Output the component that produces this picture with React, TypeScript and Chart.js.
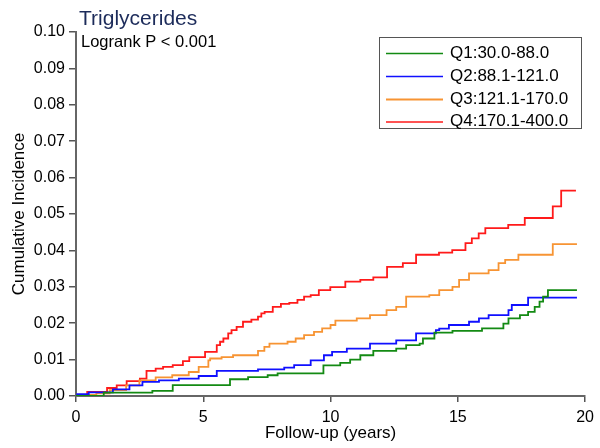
import React, { useEffect, useRef } from "react";
import { Chart, registerables } from "chart.js";

Chart.register(...registerables);

const chartTitle = "Triglycerides";
const pValueText = "Logrank P < 0.001";
const xAxisTitle = "Follow-up (years)";
const yAxisTitle = "Cumulative Incidence";

const seriesLabels = ["Q1:30.0-88.0", "Q2:88.1-121.0", "Q3:121.1-170.0", "Q4:170.1-400.0"];
const seriesColors = ["#138a13", "#1010ff", "#f79433", "#ff1a1a"];

const q1Times = [0, 1.09, 3.0, 3.8, 6.05, 6.76, 7.53, 7.92, 9.72, 10.38, 10.77, 11.17, 11.68, 12.58, 12.97, 13.5, 13.63, 14.08, 14.79, 15.95, 16.79, 16.99, 17.44, 17.76, 18.02, 18.21, 18.35, 18.54, 19.68];
const q1Values = [0, 0.0009, 0.0014, 0.003, 0.0046, 0.0052, 0.0057, 0.0062, 0.0084, 0.0091, 0.01, 0.0112, 0.0124, 0.013, 0.014, 0.0144, 0.0158, 0.0174, 0.0179, 0.0186, 0.0199, 0.0213, 0.0222, 0.0231, 0.0245, 0.0259, 0.0273, 0.0291, 0.0291];

const q2Times = [0, 0.05, 0.5, 1.45, 2.1, 2.61, 3.26, 4.04, 4.82, 5.53, 7.15, 8.18, 8.57, 9.22, 9.74, 10.06, 10.64, 11.55, 12.58, 13.36, 14.14, 14.27, 14.65, 15.44, 15.83, 16.21, 16.99, 17.12, 17.76, 19.68];
const q2Values = [0, 0.0005, 0.001, 0.0018, 0.0029, 0.0039, 0.0043, 0.0048, 0.0055, 0.0069, 0.0073, 0.0078, 0.0085, 0.0098, 0.0112, 0.0121, 0.013, 0.0144, 0.0153, 0.0172, 0.0181, 0.0185, 0.0195, 0.0204, 0.0213, 0.0222, 0.0236, 0.025, 0.027, 0.027];

const q3Times = [0, 0.5, 0.8, 1.32, 1.97, 2.49, 3.13, 3.78, 4.43, 4.82, 5.2, 5.27, 5.72, 6.17, 7.15, 7.4, 7.6, 8.31, 8.63, 8.96, 9.35, 9.67, 10.0, 10.19, 11.03, 11.55, 12.2, 12.58, 12.97, 13.88, 14.27, 14.79, 15.05, 15.44, 16.21, 16.6, 16.86, 17.38, 18.73, 19.68];
const q3Values = [0, 0.0003, 0.0007, 0.0016, 0.0029, 0.0043, 0.0051, 0.0057, 0.0066, 0.008, 0.0098, 0.0103, 0.0107, 0.0112, 0.0124, 0.0135, 0.0144, 0.0149, 0.0158, 0.0167, 0.0176, 0.0186, 0.0195, 0.0207, 0.0213, 0.0222, 0.0236, 0.0245, 0.0273, 0.0277, 0.0291, 0.03, 0.0319, 0.0337, 0.0346, 0.0365, 0.0374, 0.0388, 0.0417, 0.0417];

const q4Times = [0, 0.44, 1.22, 1.6, 1.99, 2.51, 2.77, 3.13, 3.42, 3.8, 4.2, 4.45, 5.07, 5.53, 5.66, 5.79, 5.98, 6.11, 6.31, 6.56, 6.89, 7.15, 7.28, 7.41, 7.73, 8.05, 8.38, 8.7, 8.96, 9.22, 9.54, 9.99, 10.58, 11.17, 11.68, 12.22, 12.84, 13.36, 14.26, 14.78, 15.3, 15.55, 15.82, 16.08, 16.98, 17.63, 18.73, 19.06, 19.64];
const q4Values = [0, 0.0011, 0.0022, 0.0029, 0.0041, 0.0048, 0.0069, 0.0075, 0.008, 0.0085, 0.0096, 0.0107, 0.0121, 0.014, 0.0149, 0.0158, 0.0172, 0.0181, 0.019, 0.0204, 0.021, 0.0218, 0.0227, 0.0231, 0.0245, 0.0253, 0.0256, 0.0264, 0.0273, 0.0277, 0.0291, 0.0299, 0.0314, 0.0319, 0.0326, 0.0355, 0.0365, 0.0388, 0.0394, 0.0401, 0.042, 0.0433, 0.0447, 0.0461, 0.047, 0.0489, 0.0521, 0.0564, 0.0564];

const xTickStep = 5;
const yTickStep = 0.01;

const FONT = "'Liberation Sans', Arial, sans-serif";

function toPoints(times: number[], values: number[]) {
  return times.map((t, i) => ({ x: t, y: values[i] }));
}

const overlayPlugin = {
  id: "overlay",
  afterDraw(chart: any) {
    const ctx = chart.ctx as CanvasRenderingContext2D;
    const area = chart.chartArea;
    ctx.save();
    ctx.fillStyle = "#1c2b5a";
    ctx.font = `21px ${FONT}`;
    ctx.textAlign = "left";
    ctx.textBaseline = "alphabetic";
    ctx.fillText(chartTitle, 79, 25);
    ctx.fillStyle = "#000";
    ctx.font = `16.5px ${FONT}`;
    ctx.fillText(pValueText, 81, 47);
    ctx.font = `17px ${FONT}`;
    ctx.textAlign = "center";
    ctx.fillText(xAxisTitle, (area.left + area.right) / 2, 438);
    ctx.save();
    ctx.translate(19, (area.top + area.bottom) / 2);
    ctx.rotate(-Math.PI / 2);
    ctx.textBaseline = "middle";
    ctx.fillText(yAxisTitle, 0, 0);
    ctx.restore();
    const bx = 379.5, by = 37.5, bw = 202, bh = 91;
    ctx.fillStyle = "#fff";
    ctx.fillRect(bx, by, bw, bh);
    ctx.strokeStyle = "#555";
    ctx.lineWidth = 1;
    ctx.strokeRect(bx, by, bw, bh);
    const rows = [53.5, 76.5, 99.5, 122];
    chart.data.datasets.forEach((ds: any, i: number) => {
      const y = rows[i];
      ctx.strokeStyle = ds.borderColor;
      ctx.lineWidth = i === 2 ? 2 : 1.5;
      ctx.beginPath();
      ctx.moveTo(386, y);
      ctx.lineTo(443, y);
      ctx.stroke();
      ctx.fillStyle = "#000";
      ctx.font = `17px ${FONT}`;
      ctx.textAlign = "left";
      ctx.textBaseline = "middle";
      ctx.fillText(ds.label, 450, y - 0.5);
    });
    ctx.restore();
  },
};

export default function App() {
  const canvasRef = useRef<HTMLCanvasElement | null>(null);

  useEffect(() => {
    if (!canvasRef.current) return;
    const series = [
      toPoints(q1Times, q1Values),
      toPoints(q2Times, q2Values),
      toPoints(q3Times, q3Values),
      toPoints(q4Times, q4Values),
    ];
    const chart = new Chart(canvasRef.current, {
      type: "line",
      data: {
        datasets: series.map((pts, i) => ({
          label: seriesLabels[i],
          data: pts,
          borderColor: seriesColors[i],
          backgroundColor: seriesColors[i],
          borderWidth: 1.8,
          pointRadius: 0,
          stepped: true,
          fill: false,
        })),
      },
      options: {
        responsive: false,
        animation: false,
        layout: { padding: { left: 0, right: 9, top: 32, bottom: 0 } },
        plugins: {
          legend: { display: false },
          tooltip: { enabled: false },
          title: { display: false },
        },
        scales: {
          x: {
            type: "linear",
            min: 0,
            max: 20,
            afterFit: (scale: any) => {
              scale.height = 52;
            },
            ticks: {
              stepSize: xTickStep,
              autoSkip: false,
              color: "#000",
              font: { family: FONT, size: 16 },
              padding: 6,
              maxRotation: 0,
            },
            grid: {
              display: true,
              drawOnChartArea: false,
              drawTicks: true,
              tickLength: 6,
              color: "#555",
              lineWidth: 1.5,
            },
            border: { display: true, color: "#666", width: 2 },
          },
          y: {
            type: "linear",
            min: 0,
            max: 0.1,
            afterFit: (scale: any) => {
              scale.width = 76;
            },
            ticks: {
              stepSize: yTickStep,
              autoSkip: false,
              color: "#000",
              font: { family: FONT, size: 16 },
              padding: 4,
              callback: (v: any) => Number(v).toFixed(2),
            },
            grid: {
              display: true,
              drawOnChartArea: false,
              drawTicks: true,
              tickLength: 7,
              color: "#555",
              lineWidth: 1.5,
            },
            border: { display: true, color: "#666", width: 2 },
          },
        },
      },
      plugins: [overlayPlugin],
    });
    return () => chart.destroy();
  }, []);

  return (
    <div style={{ position: "absolute", left: 0, top: 0, width: 600, height: 448, background: "#fff" }}>
      <canvas ref={canvasRef} width={600} height={448} style={{ display: "block" }} />
    </div>
  );
}
